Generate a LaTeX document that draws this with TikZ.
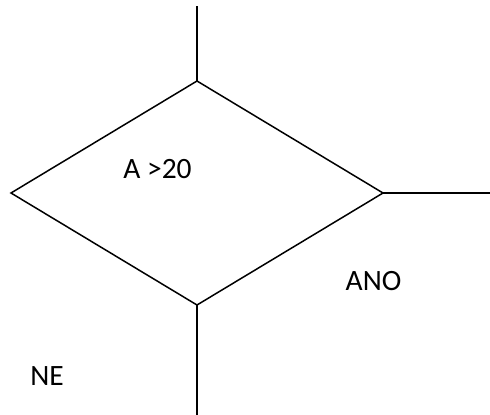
\documentclass[tikz,border=0pt]{standalone}
\usepackage{fontspec}
\setmainfont{Carlito}
\usetikzlibrary{shapes.geometric,positioning}
\tikzset{
    decision/.style={
    diamond,draw=black,line width=1.5pt,inner sep=0pt,outer sep=0pt,
    minimum width=372pt,minimum height=224pt
    },
    lbl/.style={
    inner sep=0pt,font=\fontsize{29.5}{34}\selectfont
    },
    flow/.style={
    line width=1.5pt,draw=black
    },
}
\begin{document}
\begin{tikzpicture}[x=1pt,y=-1pt]
  \useasboundingbox (0,0) rectangle (490,415);
  \node[decision] (COND) at (197,193) {};
  \node[lbl] (TEST) at (157.5,169) {A >20};
  \node[lbl] (YES) at (373.5,281) {ANO};
  \node[lbl] (NO) at (47,376) {NE};
  \coordinate (IN) at (197,6);
  \coordinate (OUTY) at (490,193);
  \coordinate (OUTN) at (197,415);

  \path[flow]
    (IN) edge (COND.north)
    (COND.east) edge (OUTY)
    (COND.south) edge (OUTN);

\end{tikzpicture}
\end{document}
